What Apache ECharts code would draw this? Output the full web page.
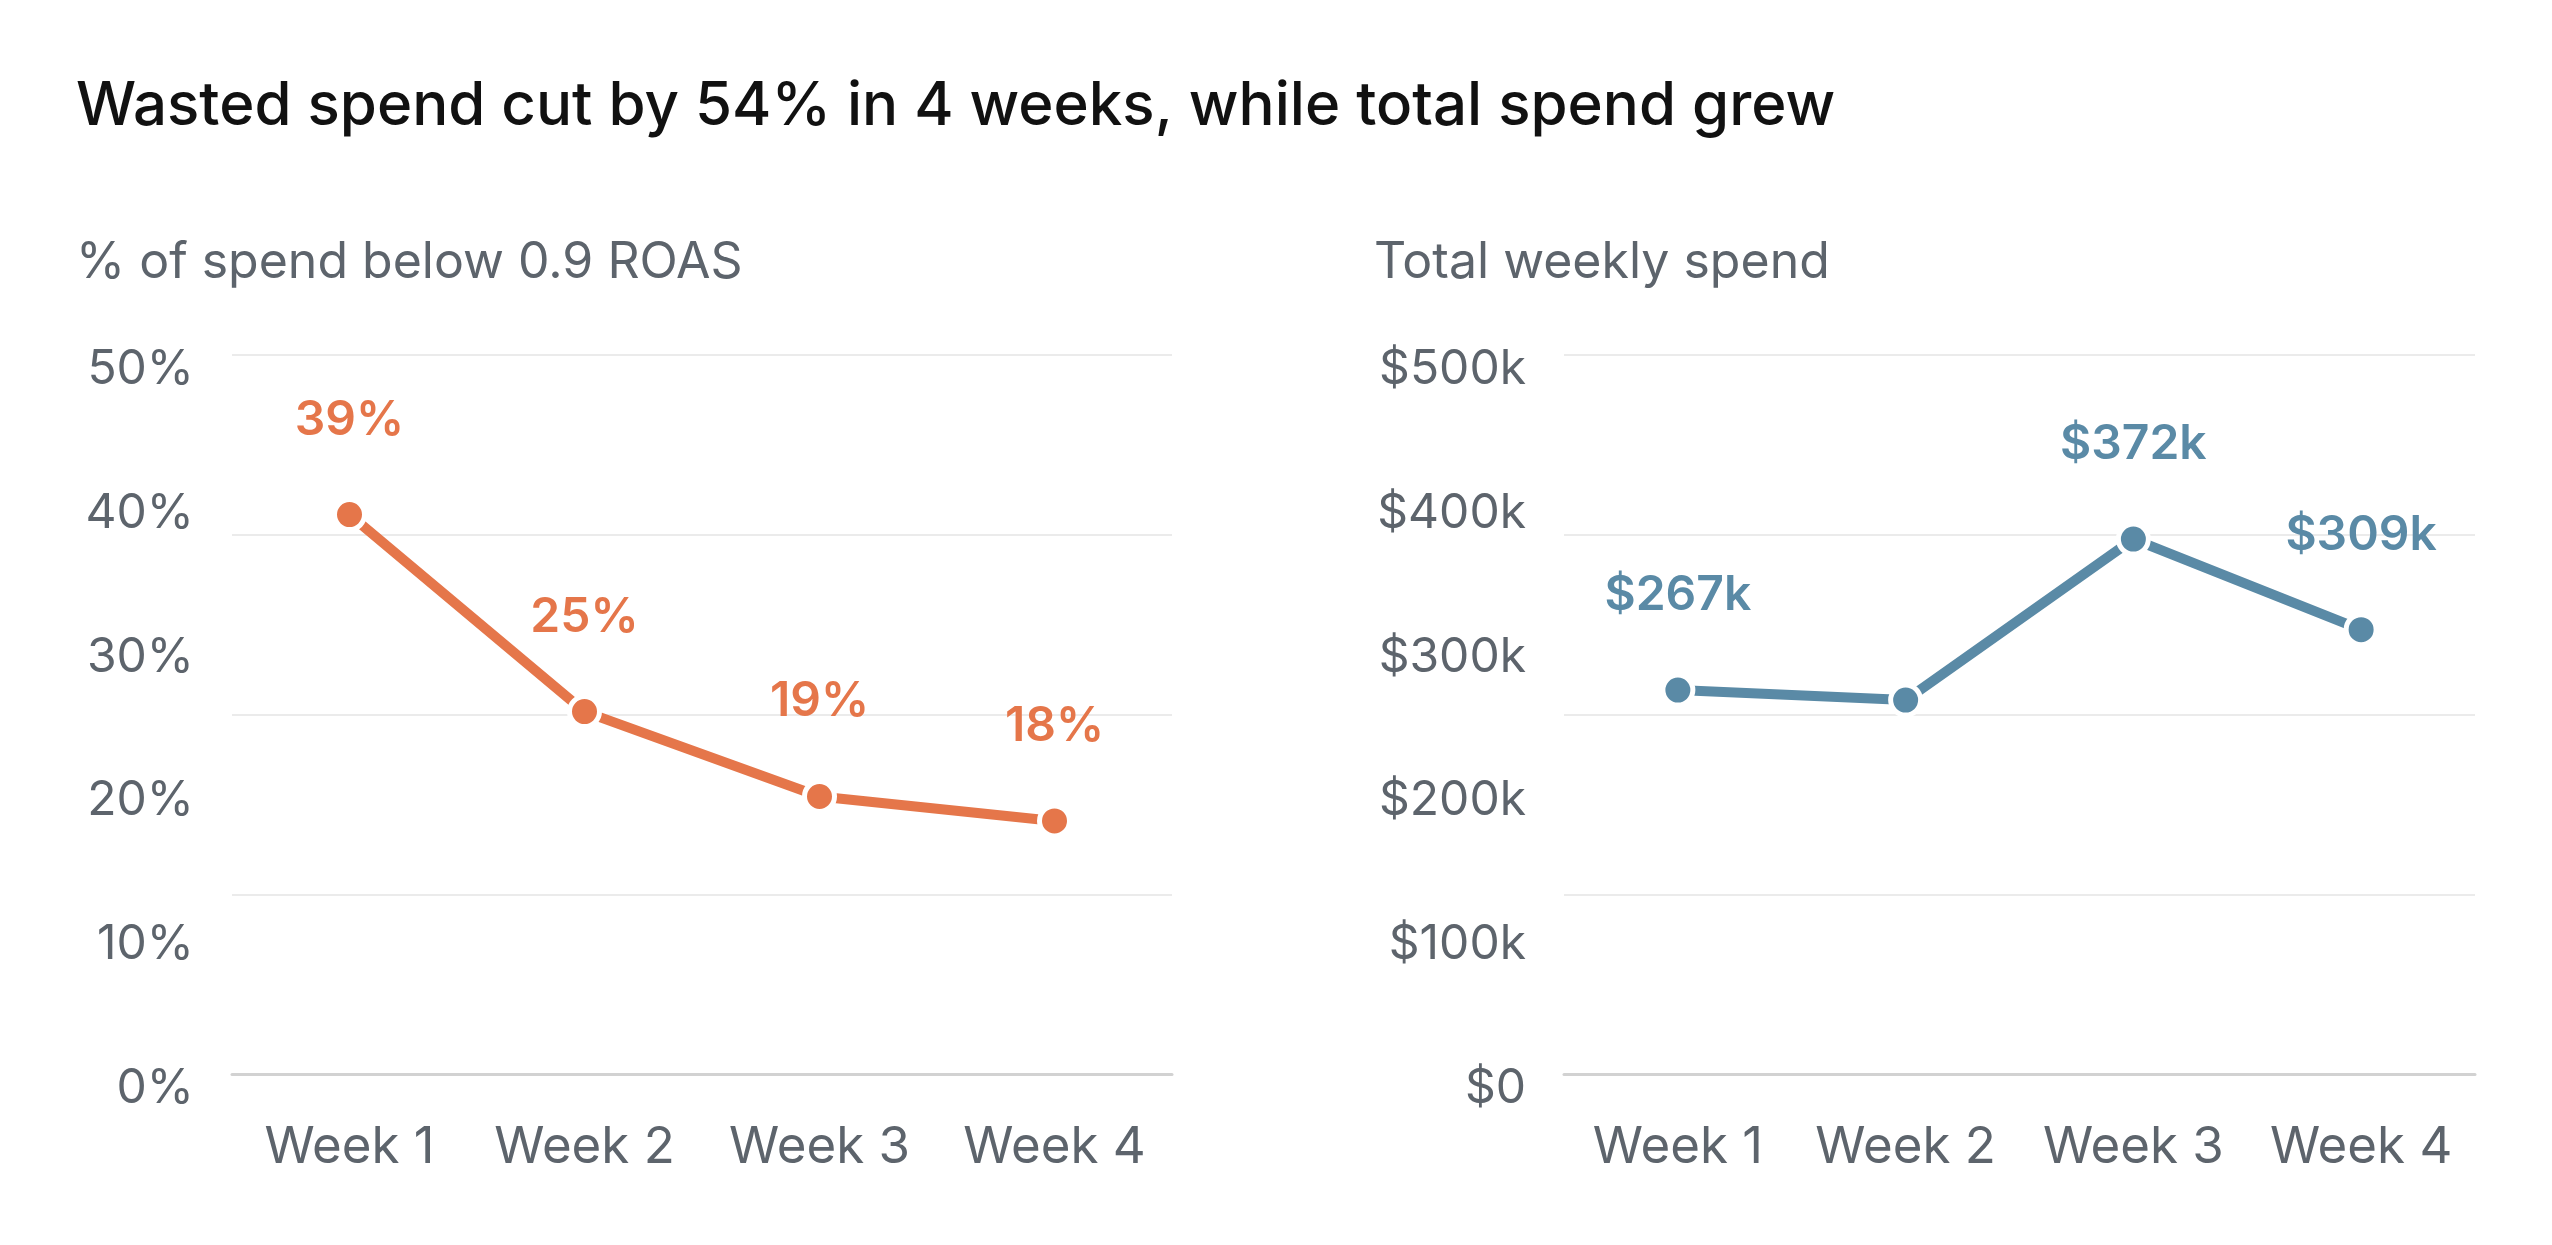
<!DOCTYPE html>
<html>
<head>
<meta charset="utf-8">
<script src="https://cdn.jsdelivr.net/npm/echarts@6/dist/echarts.min.js"></script>
<style>
  html, body { margin: 0; padding: 0; background: #fff; }
  #chart { width: 2552px; height: 1245px; }
</style>
</head>
<body>
<div id="chart"></div>
<script>
// Data
const weeks = ['Week 1', 'Week 2', 'Week 3', 'Week 4'];
const wastedPct = [38.9, 25.2, 19.3, 17.6];
const totalSpend = [267, 260, 372, 309]; // $k
const spendLabelShown = [true, false, true, true];

const FONT = 'Inter, "Noto Sans", sans-serif';
const GREY = '#5d646c';
const ORANGE = '#e5764a';
const BLUE = '#5a8aa6';

const chart = echarts.init(document.getElementById('chart'));

// one axis for labels, one for the gridlines (they don't share steps in the original)
const labelAxis = (grid, max, interval, fmt) => ({
  type: 'value', gridIndex: grid, min: 0, max, interval,
  axisLine: { show: false }, axisTick: { show: false }, splitLine: { show: false },
  axisLabel: {
    color: GREY, fontFamily: FONT, fontSize: 48, margin: 38,
    // labels sit a little below their tick in the original
    verticalAlign: 'top', lineHeight: 29, formatter: fmt,
  },
});
const gridAxis = (grid, max, interval) => ({
  type: 'value', gridIndex: grid, min: 0, max, interval,
  axisLine: { show: false }, axisTick: { show: false }, axisLabel: { show: false },
  splitLine: { lineStyle: { color: '#ebebeb', width: 2 } },
});
const catAxis = grid => ({
  type: 'category', gridIndex: grid, data: weeks,
  axisLine: { lineStyle: { color: '#d2d2d2', width: 3 } },
  axisTick: { show: false },
  axisLabel: { color: GREY, fontFamily: FONT, fontSize: 51, margin: 48, interval: 0, hideOverlap: false },
});

const lineSeries = (x, y, data, color, fmt) => ({
  type: 'line', xAxisIndex: x, yAxisIndex: y, data,
  symbol: 'circle', symbolSize: 30,
  lineStyle: { color, width: 10 },
  itemStyle: { color, borderColor: '#fff', borderWidth: 5 },
  label: {
    show: true, position: 'top', distance: 53,
    color, fontFamily: FONT, fontSize: 48, fontWeight: 600, formatter: fmt,
  },
  animation: false, z: 5,
});

chart.setOption({
  backgroundColor: '#fff',
  title: [
    {
      text: 'Wasted spend cut by 54% in 4 weeks, while total spend grew',
      left: 76, top: 77, padding: 0,
      textStyle: { color: '#111', fontFamily: FONT, fontSize: 60, fontWeight: 500 },
    },
    {
      text: '% of spend below 0.9 ROAS',
      left: 76, top: 238, padding: 0,
      textStyle: { color: GREY, fontFamily: FONT, fontSize: 50, fontWeight: 400 },
    },
    {
      text: 'Total weekly spend',
      left: 1374, top: 238, padding: 0,
      textStyle: { color: GREY, fontFamily: FONT, fontSize: 50, fontWeight: 400 },
    },
  ],
  grid: [
    { left: 232, top: 355, width: 940, height: 719 },
    { left: 1564, top: 355, width: 911, height: 719 },
  ],
  xAxis: [catAxis(0), catAxis(1)],
  yAxis: [
    labelAxis(0, 50, 10, v => v + '%'),
    gridAxis(0, 50, 12.5),
    labelAxis(1, 500, 100, v => (v === 0 ? '$0' : '$' + v + 'k')),
    gridAxis(1, 500, 125),
  ],
  series: [
    lineSeries(0, 0, wastedPct, ORANGE, p => Math.round(p.value) + '%'),
    lineSeries(1, 2, totalSpend.map((v, i) => ({
      value: v, label: { show: spendLabelShown[i] },
    })), BLUE, p => '$' + Math.round(p.value) + 'k'),
  ],
});
</script>
</body>
</html>
